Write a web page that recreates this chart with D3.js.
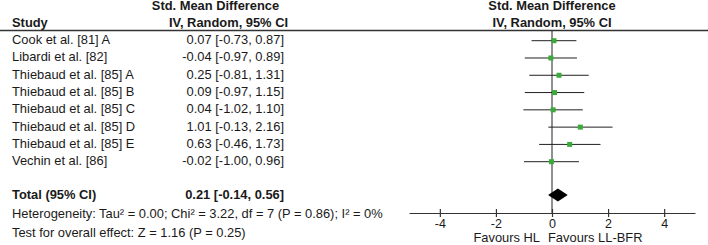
<!DOCTYPE html>
<html>
<head>
<meta charset="utf-8">
<script src="https://cdn.jsdelivr.net/npm/d3@7"></script>
<style>
  html, body { margin: 0; padding: 0; background: #fff; }
  svg { display: block; font-family: "Liberation Sans", Arial, sans-serif; }
  .txt { font-size: 12px; fill: #1a1a1a; }
  .bold { font-weight: bold; }
</style>
</head>
<body>
<div id="chart"></div>
<script>
// Study rows
const studies = [
  'Cook et al. [81] A',
  'Libardi et al. [82]',
  'Thiebaud et al. [85] A',
  'Thiebaud et al. [85] B',
  'Thiebaud et al. [85] C',
  'Thiebaud et al. [85] D',
  'Thiebaud et al. [85] E',
  'Vechin et al. [86]'
];
const smd   = [0.07, -0.04, 0.25, 0.09, 0.04, 1.01, 0.63, -0.02];
const lower = [-0.73, -0.97, -0.81, -0.97, -1.02, -0.13, -0.46, -1.00];
const upper = [0.87, 0.89, 1.31, 1.15, 1.10, 2.16, 1.73, 0.96];

// pooled estimate
const total = { est: 0.21, lo: -0.14, hi: 0.56 };

const axisTicks = [-4, -2, 0, 2, 4];
const axisDomain = [-5.1, 5.1];

const heterogeneity = 'Heterogeneity: Tau² = 0.00; Chi² = 3.22, df = 7 (P = 0.86); I² = 0%';
const overallTest = 'Test for overall effect: Z = 1.16 (P = 0.25)';

const W = 708, H = 245;
const SX = 1.075; // text in the source is a bit wider than tall
const loc = d3.formatLocale({ decimal: '.', thousands: ',', grouping: [3], currency: ['', ''], minus: '-' });
const fmt = loc.format('.2f');

const svg = d3.select('#chart').append('svg')
  .attr('width', W).attr('height', H);

const x = d3.scaleLinear().domain(axisDomain).range([409, 695]);
const y = d3.scalePoint().domain(studies).range([40.7, 161.7]);
const yTotal = 195, yAxis = 213;

function label(g, tx, ty, str, anchor) {
  return g.append('text')
    .attr('transform', `translate(${tx},${ty}) scale(${SX},1)`)
    .attr('text-anchor', anchor || 'start')
    .text(str);
}

// headers
const hdr = svg.append('g').attr('class', 'txt bold');
label(hdr, 12, 26.5, 'Study');
label(hdr, 215.5, 10, 'Std. Mean Difference', 'middle');
label(hdr, 228.5, 26.5, 'IV, Random, 95% CI', 'middle');
label(hdr, x(0), 10, 'Std. Mean Difference', 'middle');
label(hdr, x(0), 26.5, 'IV, Random, 95% CI', 'middle');

svg.append('line')
  .attr('x1', 0).attr('x2', W).attr('y1', 30.5).attr('y2', 30.5)
  .attr('stroke', '#333').attr('stroke-width', 1.3);

// study rows text
const rows = svg.append('g').attr('class', 'txt');
studies.forEach((s, i) => {
  label(rows, 12, y(s) + 3.5, s);
  label(rows, 284, y(s) + 3.5, `${fmt(smd[i])} [${fmt(lower[i])}, ${fmt(upper[i])}]`, 'end');
});

// total
const tot = svg.append('g').attr('class', 'txt bold');
label(tot, 12, yTotal + 3.5, 'Total (95% CI)');
label(tot, 284, yTotal + 3.5, `${fmt(total.est)} [${fmt(total.lo)}, ${fmt(total.hi)}]`, 'end');

const notes = svg.append('g').attr('class', 'txt');
label(notes, 12, 218, heterogeneity);
label(notes, 12, 237, overallTest);

// zero line
svg.append('line')
  .attr('x1', x(0)).attr('x2', x(0)).attr('y1', 31).attr('y2', yAxis)
  .attr('stroke', '#222').attr('stroke-width', 1);

// CI lines and squares
const plot = svg.append('g');
plot.selectAll('line.ci').data(studies).join('line')
  .attr('class', 'ci')
  .attr('x1', (d, i) => x(lower[i])).attr('x2', (d, i) => x(upper[i]))
  .attr('y1', d => y(d)).attr('y2', d => y(d))
  .attr('stroke', '#222').attr('stroke-width', 1);

const sq = 5;
plot.selectAll('rect.pt').data(studies).join('rect')
  .attr('class', 'pt')
  .attr('x', (d, i) => x(smd[i]) - sq / 2).attr('y', d => y(d) - sq / 2)
  .attr('width', sq).attr('height', sq)
  .attr('fill', '#3aaa3a');

// diamond
const dh = 6.5;
plot.append('path')
  .attr('d', `M${x(total.lo)},${yTotal} L${x(total.est)},${yTotal - dh} L${x(total.hi)},${yTotal} L${x(total.est)},${yTotal + dh} Z`)
  .attr('fill', '#000');

// axis
const ax = svg.append('g').attr('transform', `translate(0,${yAxis})`)
  .call(d3.axisBottom(x).tickValues(axisTicks).tickFormat(loc.format('d'))
    .tickSizeInner(0).tickSizeOuter(0).tickPadding(6));
ax.select('.domain').attr('stroke', '#333').attr('stroke-width', 1.2);
ax.selectAll('.tick line').attr('y1', -4).attr('y2', 4).attr('stroke', '#333').attr('stroke-width', 1.2);
ax.selectAll('.tick text').attr('font-size', 12.5).attr('fill', '#1a1a1a')
  .attr('font-family', '"Liberation Sans", Arial, sans-serif')
  .attr('dy', '0.71em').attr('y', 6.5);

// favours labels
const fav = svg.append('g').attr('class', 'txt');
label(fav, x(0) - 12, 242, 'Favours HL', 'end');
label(fav, x(0) - 4, 242, 'Favours LL-BFR');
</script>
</body>
</html>
